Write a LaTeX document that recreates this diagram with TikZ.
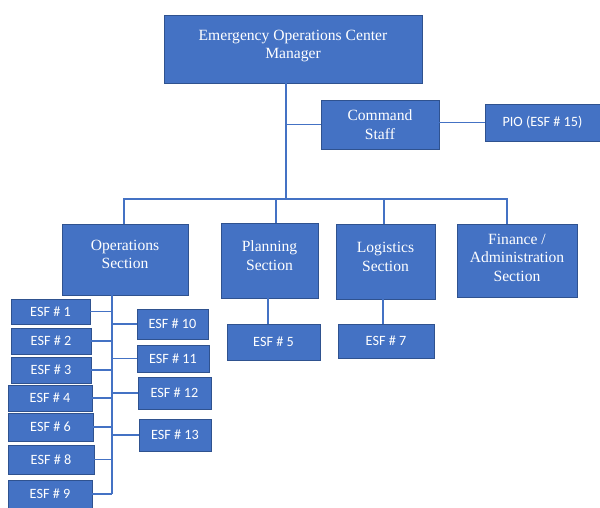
\documentclass[tikz,border=0pt]{standalone}
\usepackage{fontspec}
\setmainfont{Liberation Serif}
\newfontfamily\esffont{Carlito}
\definecolor{boxblue}{HTML}{4472C4}
\definecolor{boxedge}{HTML}{2F528F}
\begin{document}
\begin{tikzpicture}[x=1pt,y=-1pt,
    unit/.style={draw=boxedge,line width=0.8pt,fill=boxblue,text=white,inner sep=0pt,align=center},
    sec/.style={unit,font=\fontsize{15.6}{18.6}\selectfont},
    esf/.style={unit,font=\esffont\fontsize{14.2}{17}\selectfont},
    link/.style={draw=boxblue,line width=1.6pt}]
                \useasboundingbox (0,0) rectangle (600,508);
                \node[sec,minimum width=258pt,minimum height=68pt,text depth=9.5pt] (mgr) at (293,49) {Emergency Operations Center\\Manager};
                \node[sec,minimum width=118pt,minimum height=49pt] (cmd) at (380,124.5) {Command\\Staff};
                \node[esf,minimum width=115pt,minimum height=37pt] (pio) at (542.5,122.5) {PIO (ESF \# 15)};
                \node[sec,minimum width=126pt,minimum height=71pt,text depth=10pt] (ops) at (125,259.5) {Operations\\Section};
                \node[sec,minimum width=97pt,minimum height=75pt,text depth=10pt] (plan) at (269.5,260.5) {Planning\\Section};
                \node[sec,minimum width=99pt,minimum height=75pt,text depth=9pt] (logi) at (385.5,261.5) {Logistics\\Section};
                \node[sec,minimum width=120pt,minimum height=73pt,text depth=6pt] (fin) at (517,260.5) {Finance /\\Administration\\Section};
                \node[esf,minimum width=93pt,minimum height=36pt] (e5) at (273.5,342) {ESF \# 5};
                \node[esf,minimum width=96pt,minimum height=34pt] (e7) at (386,341) {ESF \# 7};
                \node[esf,minimum width=79pt,minimum height=25pt] (e1) at (50.5,311.5) {ESF \# 1};
                \node[esf,minimum width=80pt,minimum height=26pt] (e2) at (51,341) {ESF \# 2};
                \node[esf,minimum width=80pt,minimum height=26pt] (e3) at (51,370) {ESF \# 3};
                \node[esf,minimum width=84pt,minimum height=26pt] (e4) at (50,398) {ESF \# 4};
                \node[esf,minimum width=85pt,minimum height=28pt] (e6) at (50.5,427) {ESF \# 6};
                \node[esf,minimum width=86pt,minimum height=29pt] (e8) at (51,459.5) {ESF \# 8};
                \node[esf,minimum width=84pt,minimum height=28pt] (e9) at (50,494) {ESF \# 9};
                \node[esf,minimum width=71pt,minimum height=30pt] (e10) at (172.5,324) {ESF \# 10};
                \node[esf,minimum width=72pt,minimum height=27pt] (e11) at (173,358.5) {ESF \# 11};
                \node[esf,minimum width=73pt,minimum height=32pt] (e12) at (174.5,393) {ESF \# 12};
                \node[esf,minimum width=72pt,minimum height=32pt] (e13) at (175,435) {ESF \# 13};
                \coordinate (bus) at (286,199); \coordinate (busl) at (124,199); \coordinate (busr) at (507,199);
                \coordinate (plandrop) at (276,199); \coordinate (logidrop) at (384,199); \coordinate (trunk) at (112,295);

                \draw[link] (mgr.south -| bus) -- (bus); \draw[link] (cmd.west) -- (cmd.west -| bus); \draw[link] (pio.west -| cmd.east) -- (pio.west);
                \draw[link] (ops.north -| busl) -- (busl) -- (busr) -- (fin.north -| busr); \draw[link] (plandrop) -- (plan.north -| plandrop); \draw[link] (logidrop) -- (logi.north -| logidrop);
                \draw[link] (plan.south -| 268,0) -- (e5.north -| 268,0); \draw[link] (logi.south -| 383,0) -- (e7.north -| 383,0);
                \draw[link] (ops.south -| trunk) -- (e9.east -| trunk);
                \foreach \e in {e1,e2,e3,e4,e6,e8,e9} \draw[link] (\e.east) -- (\e.east -| trunk);
                \foreach \e in {e10,e11,e12,e13} \draw[link] (\e.west) -- (\e.west -| trunk);
            \end{tikzpicture}
\end{document}
